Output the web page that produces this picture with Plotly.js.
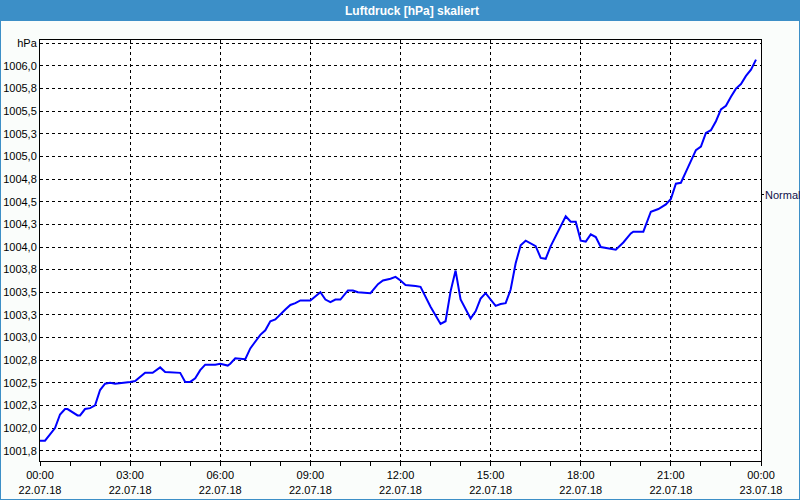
<!DOCTYPE html>
<html>
<head>
<meta charset="utf-8">
<script src="https://cdn.plot.ly/plotly-3.0.1.min.js"></script>
<style>
html,body{margin:0;padding:0;background:#fafdfb;}
#chart{width:800px;height:500px;}
</style>
</head>
<body>
<div id="chart"></div>
<script>
const times = ["00:00","00:10","00:30","00:40","00:50","00:55","01:15","01:20","01:30","01:40","01:50","02:00","02:10","02:20","02:30","02:50","03:00","03:10","03:30","03:45","04:00","04:10","04:40","04:50","05:00","05:10","05:20","05:30","05:50","06:00","06:15","06:20","06:30","06:50","07:00","07:20","07:30","07:40","07:50","08:10","08:20","08:30","08:40","09:00","09:10","09:20","09:30","09:40","09:50","10:00","10:15","10:25","10:35","11:00","11:15","11:25","11:40","11:50","12:00","12:10","12:30","12:40","13:00","13:20","13:30","13:40","13:50","14:00","14:20","14:30","14:40","14:50","15:10","15:20","15:30","15:40","15:50","16:00","16:10","16:30","16:40","16:50","17:00","17:15","17:25","17:30","17:40","17:50","18:00","18:10","18:20","18:30","18:40","19:00","19:10","19:25","19:40","19:45","20:05","20:20","20:35","20:50","21:00","21:10","21:20","21:30","21:45","21:50","22:00","22:10","22:20","22:30","22:40","22:50","23:00","23:10","23:20","23:30","23:40","23:50"];
const pressure = [1001.86,1001.86,1002.00,1002.15,1002.21,1002.21,1002.14,1002.14,1002.21,1002.22,1002.25,1002.42,1002.49,1002.50,1002.49,1002.50,1002.51,1002.52,1002.61,1002.61,1002.67,1002.62,1002.61,1002.51,1002.51,1002.55,1002.64,1002.70,1002.70,1002.71,1002.69,1002.71,1002.77,1002.76,1002.88,1003.03,1003.08,1003.18,1003.20,1003.31,1003.36,1003.38,1003.41,1003.41,1003.45,1003.50,1003.42,1003.39,1003.42,1003.42,1003.52,1003.52,1003.50,1003.49,1003.59,1003.63,1003.65,1003.67,1003.63,1003.58,1003.57,1003.56,1003.34,1003.15,1003.18,1003.51,1003.74,1003.42,1003.21,1003.29,1003.43,1003.49,1003.35,1003.37,1003.38,1003.53,1003.82,1004.02,1004.07,1004.01,1003.88,1003.87,1004.01,1004.18,1004.29,1004.34,1004.28,1004.28,1004.07,1004.06,1004.14,1004.11,1004.00,1003.98,1003.97,1004.05,1004.15,1004.17,1004.17,1004.39,1004.42,1004.47,1004.53,1004.70,1004.71,1004.83,1005.00,1005.07,1005.11,1005.26,1005.29,1005.39,1005.52,1005.56,1005.66,1005.75,1005.80,1005.89,1005.96,1006.07];

const xTickVals = ["2018-07-22 00:00","2018-07-22 03:00","2018-07-22 06:00","2018-07-22 09:00","2018-07-22 12:00","2018-07-22 15:00","2018-07-22 18:00","2018-07-22 21:00","2018-07-23 00:00"];
const xTickText = ["00:00<br>22.07.18","03:00<br>22.07.18","06:00<br>22.07.18","09:00<br>22.07.18","12:00<br>22.07.18","15:00<br>22.07.18","18:00<br>22.07.18","21:00<br>22.07.18","00:00<br>23.07.18"];
const yTickVals = [1001.75,1002.0,1002.25,1002.5,1002.75,1003.0,1003.25,1003.5,1003.75,1004.0,1004.25,1004.5,1004.75,1005.0,1005.25,1005.5,1005.75,1006.0,1006.25];
const yTickText = ["1001,8","1002,0","1002,3","1002,5","1002,8","1003,0","1003,3","1003,5","1003,8","1004,0","1004,3","1004,5","1004,8","1005,0","1005,3","1005,5","1005,8","1006,0","hPa"];
const normalValue = 1004.58;
const normalLabel = "Normal";
const titleText = "Luftdruck [hPa] skaliert";

const xDates = times.map(t => "2018-07-22 " + t);

// layout geometry (pixels)
const W = 800, H = 500, L = 40, R = 39, T = 40, B = 39;
const pw = W - L - R, ph = H - T - B;
const px = X => (X - L) / pw;
const py = Y => (H - B - Y) / ph;

const blue = "#3c8fc7";
const font = "Liberation Sans, Arial, sans-serif";

const shapes = [
  {type:"rect", xref:"paper", yref:"paper", x0:px(0), x1:px(800), y0:py(21), y1:py(0), fillcolor:blue, line:{width:0}, layer:"above"},
  {type:"rect", xref:"paper", yref:"paper", x0:px(0), x1:px(1), y0:py(500), y1:py(0), fillcolor:blue, line:{width:0}, layer:"above"},
  {type:"rect", xref:"paper", yref:"paper", x0:px(799), x1:px(800), y0:py(500), y1:py(0), fillcolor:blue, line:{width:0}, layer:"above"},
  {type:"rect", xref:"paper", yref:"paper", x0:px(0), x1:px(800), y0:py(500), y1:py(499), fillcolor:blue, line:{width:0}, layer:"above"},
  {type:"line", xref:"paper", yref:"y", x0:1, x1:px(764), y0:normalValue, y1:normalValue, line:{color:"#000", width:1}}
];

const layout = {
  width: W, height: H,
  margin: {l:L, r:R, t:T, b:B, pad:0},
  paper_bgcolor: "#fafdfb",
  plot_bgcolor: "#ffffff",
  showlegend: false,
  title: {text: "<b>" + titleText + "</b>", x: 412/800, xref:"container", xanchor:"center", y: 1 - 10.5/500, yref:"container", yanchor:"middle", font:{family:font, size:12, color:"#ffffff"}},
  font: {family: font, size: 11, color: "#000000"},
  xaxis: {
    type: "date",
    range: ["2018-07-22 00:00", "2018-07-23 00:00"],
    tickmode: "array", tickvals: xTickVals, ticktext: xTickText,
    ticks: "outside", ticklen: 4, tickcolor: "#000", tickwidth: 1,
    minor: {tickmode:"linear", tick0:"2018-07-22 00:00", dtick:3600000, ticks:"outside", ticklen:4, tickcolor:"#000", showgrid:false},
    showgrid: true, gridcolor: "#000", gridwidth: 1, griddash: "3px,3px",
    showline: true, linecolor: "#000", linewidth: 1, mirror: true,
    zeroline: false, fixedrange: true,
    tickfont: {family: font, size: 11, color: "#000"}
  },
  yaxis: {
    range: [1001.636, 1006.287],
    tickmode: "array", tickvals: yTickVals, ticktext: yTickText,
    ticks: "",
    showgrid: true, gridcolor: "#000", gridwidth: 1, griddash: "3px,3px",
    showline: true, linecolor: "#000", linewidth: 1, mirror: true,
    zeroline: false, fixedrange: true,
    tickfont: {family: font, size: 11, color: "#000"}
  },
  shapes: shapes,
  annotations: [
    {xref:"paper", yref:"y", x:px(763), y:normalValue, text:normalLabel, showarrow:false, xanchor:"left", yanchor:"middle", font:{family:font, size:11, color:"#10104a"}}
  ]
};

const data = [{
  type: "scatter", mode: "lines",
  x: xDates, y: pressure,
  line: {color: "#0000ff", width: 2},
  hoverinfo: "x+y"
}];

Plotly.newPlot("chart", data, layout, {displayModeBar:false, staticPlot:true});
</script>
</body>
</html>
